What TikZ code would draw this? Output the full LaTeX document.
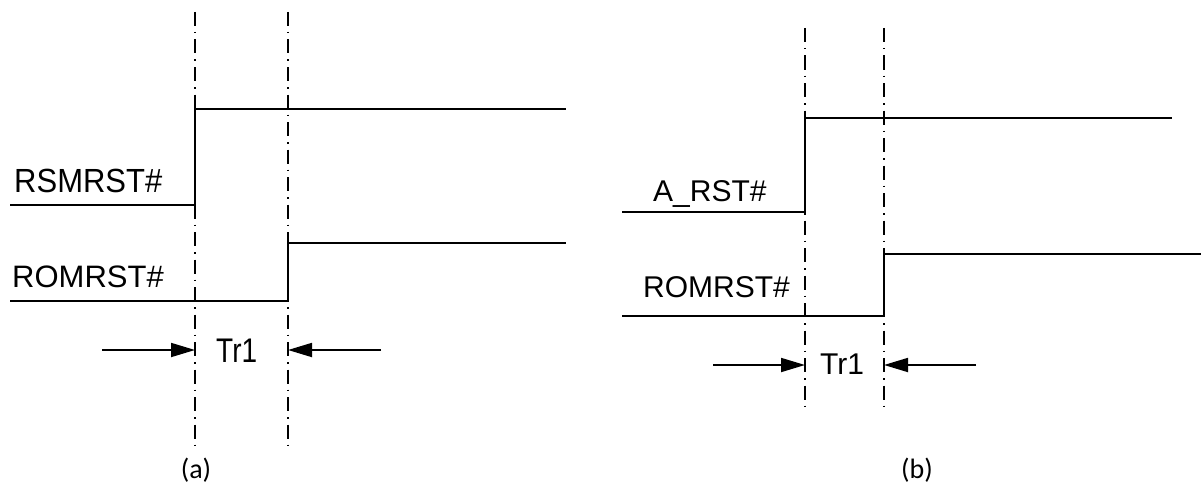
\documentclass[tikz,border=0pt]{standalone}
\usepackage{fontspec}
\setmainfont{Liberation Sans}
\newfontfamily\calfont{Carlito}
\usetikzlibrary{arrows.meta}
\newcommand{\tallby}[2]{\scalebox{1}[#1]{#2}}
\tikzset{
  sig/.style={line width=2.2pt},
  guide/.style={line width=1.7pt, dash pattern=on 14pt off 6pt on 1.5pt off 6pt},
  dimarrow/.style={line width=1.8pt, -{Triangle[length=24pt,width=14pt]}},
  lbl/.style={inner sep=0pt, anchor=base west, font=\fontsize{31}{36}\selectfont},
  lblb/.style={inner sep=0pt, anchor=base west, font=\fontsize{30}{36}\selectfont},
  trtext/.style={inner sep=0pt, anchor=base west, font=\fontsize{28}{34}\selectfont},
  captext/.style={inner sep=0pt, font=\calfont\fontsize{28}{32}\selectfont}
}
\begin{document}
\begin{tikzpicture}[x=1pt,y=-1pt]
\useasboundingbox (0,0) rectangle (1201,487);
% ---- panel (a)
\coordinate (a1t) at (195,12);  \coordinate (a1b) at (195,447);
\coordinate (a2t) at (288,12);  \coordinate (a2b) at (288,447);
\draw[guide] (a1t) -- (a1b);
\draw[guide] (a2t) -- (a2b);
\draw[sig] (10,205) -- (195,205) -- (195,109) -- (566,109);
\draw[sig] (10,301) -- (288,301) -- (288,243) -- (566,243);
\node[lbl] (ra) at (14,192) {\tallby{1.08}{RSMRST\#}};
\node[lbl] (rb) at (12,287) {ROMRST\#};
\coordinate (aL) at (102,350); \coordinate (aLe) at (195,350);
\coordinate (aR) at (381,350); \coordinate (aRe) at (288,350);
\draw[dimarrow] (aL) -- (aLe);
\draw[dimarrow] (aR) -- (aRe);
\node[trtext] (tra) at (216,362) {\tallby{1.22}{Tr1}};
\node[captext] (capa) at (196,470) {(a)};
% ---- panel (b)
\coordinate (b1t) at (805,28);  \coordinate (b1b) at (805,410);
\coordinate (b2t) at (884,28);  \coordinate (b2b) at (884,410);
\draw[guide] (b1t) -- (b1b);
\draw[guide] (b2t) -- (b2b);
\draw[sig] (622,212) -- (805,212) -- (805,118) -- (1172,118);
\draw[sig] (622,316) -- (884,316) -- (884,254) -- (1201,254);
\node[lblb] (rc) at (653,201) {A\_RST\#};
\node[lblb] (rd) at (643,297) {ROMRST\#};
\coordinate (bL) at (713,365); \coordinate (bLe) at (805,365);
\coordinate (bR) at (976,365); \coordinate (bRe) at (884,365);
\draw[dimarrow] (bL) -- (bLe);
\draw[dimarrow] (bR) -- (bRe);
\node[lblb] (trb) at (820,374) {Tr1};
\node[captext] (capb) at (917,470) {(b)};
\end{tikzpicture}
\end{document}
